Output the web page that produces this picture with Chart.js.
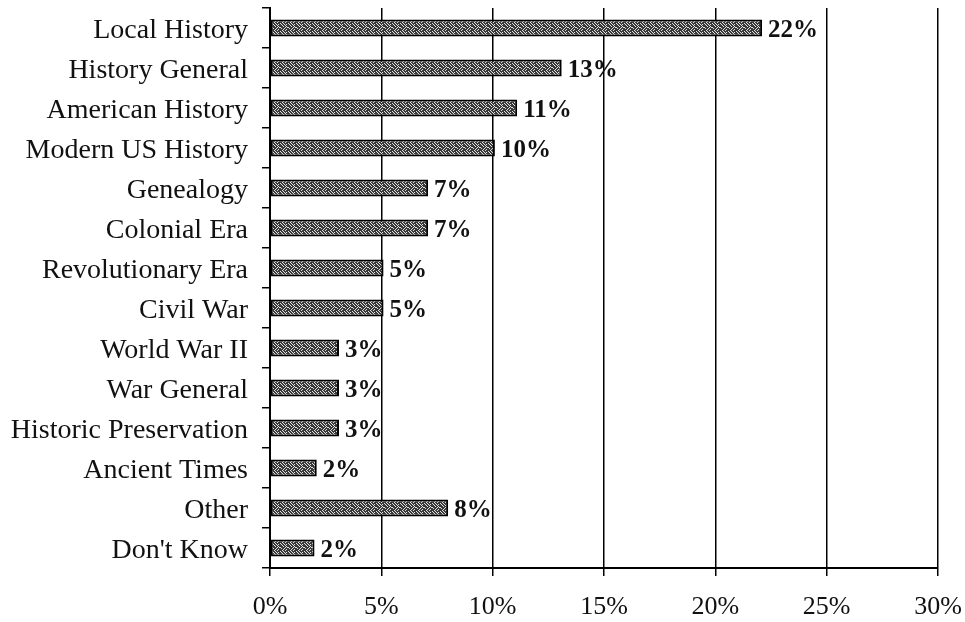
<!DOCTYPE html>
<html>
<head>
<meta charset="utf-8">
<script src="https://cdn.jsdelivr.net/npm/chart.js@4.4.0/dist/chart.umd.min.js"></script>
<style>
  html, body { margin: 0; padding: 0; background: #fff; }
  #wrap { width: 965px; height: 622px; }
</style>
</head>
<body>
<div id="wrap"><canvas id="chart" width="965" height="622"></canvas></div>
<script>
const categories = ['Local History', 'History General', 'American History', 'Modern US History',
    'Genealogy', 'Colonial Era', 'Revolutionary Era', 'Civil War', 'World War II', 'War General',
    'Historic Preservation', 'Ancient Times', 'Other', "Don't Know"];
const shares = [22.1, 13.1, 11.1, 10.1, 7.1, 7.1, 5.1, 5.1, 3.1, 3.1, 3.1, 2.1, 8, 2];
const shareLabels = ['22%', '13%', '11%', '10%', '7%', '7%', '5%', '5%', '3%', '3%', '3%', '2%', '8%', '2%'];
const xTicks = [0, 5, 10, 15, 20, 25, 30];

const serif = '"Liberation Serif", "Times New Roman", serif';

// speckled fill like the printed halftone
function makePattern() {
    const bits = [
        '10110101',
        '11011011',
        '11101101',
        '01111010',
        '10110111',
        '11101101',
        '11011011',
        '01101111'
    ];
    const c = document.createElement('canvas');
    c.width = 8; c.height = 8;
    const g = c.getContext('2d');
    for (let y = 0; y < 8; y++) {
        for (let x = 0; x < 8; x++) {
            g.fillStyle = bits[y][x] === '1' ? '#383838' : '#e4e4e4';
            g.fillRect(x, y, 1, 1);
        }
    }
    return g.createPattern(c, 'repeat');
}

const valueLabels = {
    id: 'valueLabels',
    afterDatasetsDraw(chart) {
        const ctx = chart.ctx;
        const meta = chart.getDatasetMeta(0);
        ctx.save();
        ctx.font = 'bold 25px ' + serif;
        ctx.fillStyle = '#111';
        ctx.textBaseline = 'middle';
        ctx.textAlign = 'left';
        meta.data.forEach((bar, i) => {
            ctx.fillText(shareLabels[i], bar.x + 6, bar.y + 3);
        });
        ctx.restore();
    }
};

const ctx = document.getElementById('chart').getContext('2d');
new Chart(ctx, {
    type: 'bar',
    data: {
        labels: categories,
        datasets: [{
            data: shares,
            backgroundColor: makePattern(),
            borderColor: '#000',
            borderWidth: 2,
            borderSkipped: false,
            barPercentage: 0.43,
            categoryPercentage: 1.0
        }]
    },
    options: {
        indexAxis: 'y',
        responsive: false,
        animation: false,
        layout: { padding: { left: 0, right: 27, top: 8, bottom: 0 } },
        plugins: {
            legend: { display: false },
            tooltip: { enabled: false }
        },
        scales: {
            x: {
                min: 0,
                max: 30,
                afterBuildTicks: axis => { axis.ticks = xTicks.map(v => ({ value: v })); },
                afterFit: axis => {
                    axis.height = 54;
                    axis.paddingLeft = 0;
                    axis.paddingRight = 0;
                },
                ticks: {
                    callback: v => v + '%',
                    color: '#111',
                    padding: 16,
                    font: { family: serif, size: 26 }
                },
                grid: { color: '#000', lineWidth: 1.5, tickLength: 8 },
                border: { color: '#000', width: 2 }
            },
            y: {
                afterFit: axis => {
                    axis.width = 270;
                    axis.paddingTop = 0;
                    axis.paddingBottom = 0;
                },
                ticks: {
                    color: '#111',
                    padding: 14,
                    labelOffset: 3,
                    font: { family: serif, size: 28 }
                },
                grid: { drawOnChartArea: false, color: '#000', lineWidth: 1.5, tickLength: 8 },
                border: { color: '#000', width: 2 }
            }
        }
    },
    plugins: [valueLabels]
});
</script>
</body>
</html>
